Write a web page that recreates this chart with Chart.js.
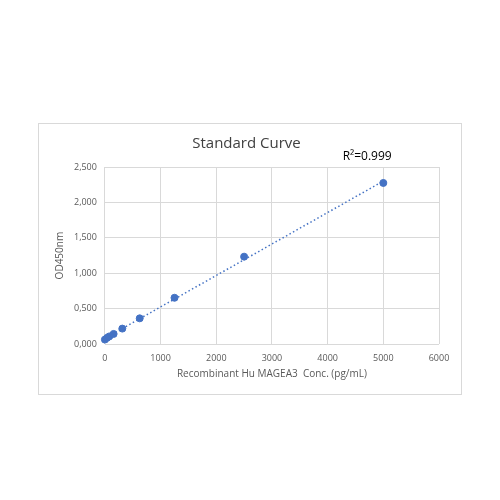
<!DOCTYPE html>
<html><head><meta charset="utf-8">
<script src="https://cdn.jsdelivr.net/npm/chart.js@4"></script>
<style>
html,body{margin:0;padding:0;background:#fff;}
#box{position:absolute;left:38px;top:123px;width:424px;height:272px;border:1px solid #d9d9d9;box-sizing:border-box;}
canvas{display:block;}
</style></head><body>
<div id="box"><canvas id="c" width="422" height="270"></canvas></div>
<script>
const concentrations = [0, 39, 78, 156, 312.5, 625, 1250, 2500, 5000];
const odValues = [0.065, 0.09, 0.11, 0.145, 0.22, 0.365, 0.655, 1.235, 2.275];
const xTicks = [0, 1000, 2000, 3000, 4000, 5000, 6000];
const yTicks = [0, 0.5, 1.0, 1.5, 2.0, 2.5];
const titleText = 'Standard Curve';
const rSquaredText = 'R²=0.999';
const xTitle = 'Recombinant Hu MAGEA3  Conc. (pg/mL)';
const yTitle = 'OD450nm';

// linear trendline from the data (least squares)
const n = concentrations.length;
const mx = concentrations.reduce((a,b)=>a+b,0)/n;
const my = odValues.reduce((a,b)=>a+b,0)/n;
let sxy=0, sxx=0;
for(let i=0;i<n;i++){sxy+=(concentrations[i]-mx)*(odValues[i]-my);sxx+=(concentrations[i]-mx)**2;}
const slope=sxy/sxx, icpt=my-slope*mx;
const trendX=[concentrations[0], concentrations[n-1]];
const trendPts=trendX.map(x=>({x:x,y:icpt+slope*x}));

const fontFam = "'Open Sans', 'Liberation Sans', sans-serif";
const rPlugin = {
  id:'rsq',
  afterDraw(chart){
    const {ctx, scales:{x,y}} = chart;
    ctx.save();
    ctx.font = "12px " + fontFam;
    ctx.fillStyle = '#000';
    ctx.textBaseline = 'middle';
    ctx.textAlign = 'left';
    ctx.fillText(rSquaredText, x.getPixelForValue(4270), y.getPixelForValue(2.64));
    ctx.restore();
  }
};

new Chart(document.getElementById('c'), {
  type:'scatter',
  data:{datasets:[
    {label:'trend', data:trendPts, type:'line', borderColor:'#4472c4', borderWidth:1.5, borderDash:[1.5,2.5], pointRadius:0, fill:false, clip:false},
    {label:'OD', data:concentrations.map((x,i)=>({x:x,y:odValues[i]})), backgroundColor:'#4472c4', borderColor:'#4472c4', pointRadius:3.5, clip:false}
  ]},
  plugins:[rPlugin],
  options:{
    responsive:false, animation:false,
    layout:{padding:{left:15,right:22,top:0,bottom:14}},
    plugins:{
      legend:{display:false}, tooltip:{enabled:false},
      title:{display:true, text:titleText, color:'#404040', font:{family:fontFam, size:15, weight:'normal'}, padding:{top:11,bottom:14}}
    },
    scales:{
      x:{type:'linear', min:0, max:6000,
        afterBuildTicks(s){s.ticks=xTicks.map(v=>({value:v}));},
        grid:{color:'#d9d9d9', drawTicks:false}, border:{display:false},
        ticks:{color:'#595959', font:{family:fontFam,size:9}, padding:9, callback:v=>String(v)},
        title:{display:true, text:xTitle, color:'#595959', font:{family:fontFam,size:10}, padding:{top:-5,bottom:0}}
      },
      y:{type:'linear', min:0, max:2.5,
        afterBuildTicks(s){s.ticks=yTicks.map(v=>({value:v}));},
        grid:{color:'#d9d9d9', drawTicks:false}, border:{display:false},
        ticks:{color:'#595959', font:{family:fontFam,size:9}, padding:8, callback:v=>v.toFixed(3).replace('.',',')},
        title:{display:true, text:yTitle, color:'#595959', font:{family:fontFam,size:10}, padding:{top:0,bottom:0}}
      }
    }
  }
});
</script>
</body></html>
